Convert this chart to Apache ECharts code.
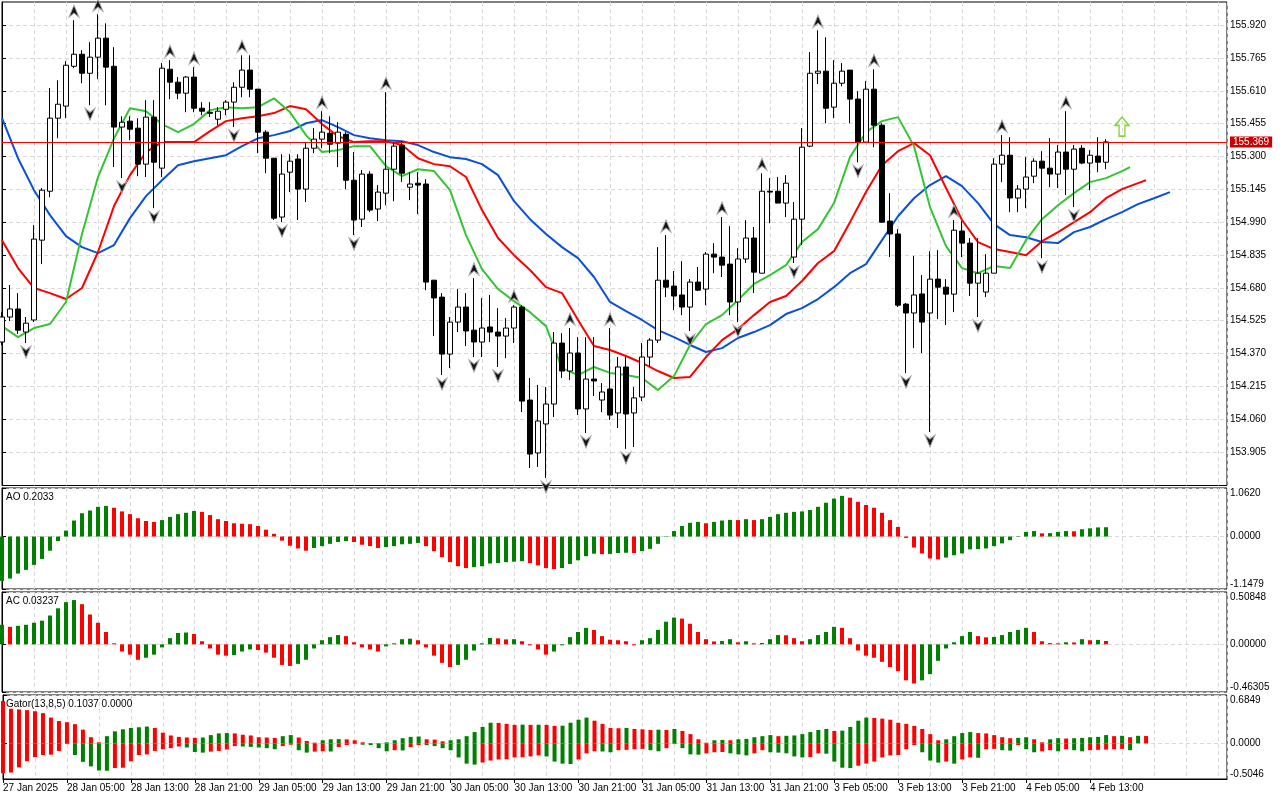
<!DOCTYPE html>
<html><head><meta charset="utf-8">
<script src="https://cdn.jsdelivr.net/npm/echarts@6/dist/echarts.min.js"></script>
<style>html,body{margin:0;padding:0;background:#fff}#c{width:1280px;height:800px}</style>
</head><body><div id="c"></div>
<script>
// ---------- DATA (H1 bars, index 0 = 27 Jan 2025 21:00) ----------
const timeLabels = ['27 Jan 2025','28 Jan 05:00','28 Jan 13:00','28 Jan 21:00','29 Jan 05:00','29 Jan 13:00','29 Jan 21:00','30 Jan 05:00','30 Jan 13:00','30 Jan 21:00','31 Jan 05:00','31 Jan 13:00','31 Jan 21:00','3 Feb 05:00','3 Feb 13:00','3 Feb 21:00','4 Feb 05:00','4 Feb 13:00'];
const priceTicks = [153.905,154.060,154.215,154.370,154.525,154.680,154.835,154.990,155.145,155.300,155.455,155.610,155.765,155.920];
const priceRange = [153.7464, 156.0296];
const aoRange = [-1.1479, 1.0620];
const acRange = [-0.46305, 0.50848];
const gatorRange = [-0.5046, 0.6849];

const opens = [154.424,154.542,154.580,154.471,154.528,154.905,155.136,155.481,155.538,155.726,
155.783,155.693,155.769,155.859,155.726,155.439,155.467,155.434,155.264,155.486,
155.245,155.712,155.651,155.599,155.675,155.528,155.509,155.476,155.523,155.557,
155.627,155.708,155.618,155.415,155.292,155.014,155.226,155.288,155.146,155.339,
155.382,155.410,155.363,155.405,155.188,155.004,155.217,155.052,155.127,155.240,
155.354,155.155,155.174,155.170,154.716,154.636,154.367,154.518,154.589,154.480,
154.424,154.495,154.471,154.452,154.490,154.589,154.150,153.900,154.037,154.131,
154.419,154.287,154.372,154.108,154.249,154.150,154.202,154.089,154.306,154.089,
154.164,154.353,154.433,154.716,154.688,154.646,154.589,154.707,154.674,154.839,
154.825,154.792,154.613,154.816,154.915,154.749,155.136,155.136,155.080,154.825,
155.004,155.349,155.693,155.703,155.533,155.646,155.708,155.571,155.368,155.618,
155.448,154.995,154.934,154.603,154.561,154.651,154.561,154.721,154.683,154.650,
154.948,154.891,154.702,154.660,154.749,155.264,155.306,155.104,155.146,155.207,
155.278,155.245,155.217,155.321,155.240,155.339,155.269,155.302,155.273];
const highs = [154.565,154.693,154.655,154.542,154.976,155.151,155.623,155.660,155.750,155.944,
155.802,155.840,155.972,155.929,155.816,155.490,155.490,155.481,155.566,155.566,
155.741,155.755,155.675,155.679,155.722,155.557,155.557,155.533,155.566,155.651,
155.778,155.778,155.618,155.424,155.292,155.311,155.311,155.311,155.363,155.434,
155.514,155.490,155.462,155.415,155.321,155.236,155.231,155.165,155.604,155.368,
155.373,155.226,155.226,155.193,154.716,154.655,154.542,154.674,154.655,154.726,
154.631,154.646,154.584,154.537,154.598,154.598,154.254,154.221,154.211,154.471,
154.466,154.490,154.447,154.447,154.447,154.230,154.490,154.353,154.353,154.211,
154.419,154.442,154.872,154.929,154.759,154.806,154.721,154.778,154.849,154.891,
155.014,154.971,154.867,155.000,154.967,155.221,155.198,155.203,155.212,155.085,
155.434,155.793,155.896,155.863,155.755,155.741,155.708,155.608,155.656,155.712,
155.457,155.127,154.957,154.608,154.830,154.740,154.853,154.858,154.721,155.000,
154.995,154.915,154.915,154.839,155.292,155.401,155.391,155.165,155.297,155.292,
155.325,155.387,155.354,155.514,155.354,155.354,155.330,155.391,155.382];
const lows = [154.410,154.523,154.462,154.419,154.518,154.792,155.108,155.386,155.481,155.717,
155.646,155.542,155.665,155.542,155.250,155.198,155.377,155.207,155.203,155.056,
155.203,155.571,155.571,155.509,155.509,155.495,155.486,155.448,155.495,155.439,
155.580,155.580,155.316,155.221,155.000,154.990,155.132,155.000,155.085,155.316,
155.339,155.316,155.250,155.146,154.929,154.967,155.037,154.995,155.070,155.089,
155.179,155.094,155.028,154.669,154.452,154.268,154.301,154.471,154.405,154.353,
154.353,154.424,154.306,154.348,154.419,154.093,153.829,153.834,153.782,154.070,
154.254,154.244,154.079,153.994,154.169,154.093,154.056,154.018,153.919,153.928,
154.145,154.306,154.419,154.636,154.575,154.551,154.476,154.665,154.598,154.749,
154.731,154.551,154.518,154.797,154.655,154.749,154.985,155.080,155.014,154.797,
154.882,155.344,155.642,155.457,155.481,155.632,155.457,155.273,155.368,155.344,
154.986,154.825,154.589,154.277,154.395,154.372,153.999,154.532,154.504,154.565,
154.825,154.641,154.542,154.636,154.749,155.179,155.037,155.037,155.056,155.174,
154.820,155.155,155.151,155.118,155.061,155.264,155.141,155.226,155.240];
const closes = [154.542,154.580,154.480,154.513,154.910,155.141,155.481,155.547,155.731,155.783,
155.693,155.769,155.859,155.722,155.439,155.462,155.429,155.264,155.486,155.273,
155.717,155.651,155.599,155.675,155.528,155.514,155.504,155.514,155.557,155.627,
155.708,155.618,155.415,155.292,155.009,155.217,155.278,155.146,155.339,155.382,
155.415,155.358,155.415,155.188,155.000,155.217,155.047,155.132,155.240,155.349,
155.221,155.170,155.165,154.707,154.632,154.367,154.518,154.589,154.476,154.424,
154.490,154.471,154.452,154.490,154.589,154.145,153.895,154.051,154.131,154.419,
154.287,154.372,154.108,154.249,154.240,154.188,154.079,154.306,154.084,154.160,
154.353,154.433,154.716,154.683,154.641,154.589,154.707,154.669,154.839,154.825,
154.787,154.613,154.816,154.915,154.754,155.136,155.132,155.080,155.174,155.004,
155.344,155.693,155.703,155.528,155.646,155.703,155.571,155.368,155.618,155.448,
154.990,154.934,154.598,154.561,154.646,154.518,154.721,154.683,154.650,154.952,
154.891,154.702,154.749,154.749,155.264,155.306,155.104,155.146,155.203,155.278,
155.245,155.217,155.321,155.240,155.335,155.269,155.306,155.273,155.369];

// Alligator lines, [bar index, price] (already shifted forward)
const jaw = [[0,155.481],[2,155.292],[4,155.141],[6,155.023],[8,154.924],[10,154.872],[12,154.844],[14,154.882],[16,155.009],[18,155.113],[20,155.188],[22,155.259],[24,155.278],[26,155.292],[28,155.306],[30,155.349],[32,155.386],[34,155.401],[36,155.420],[38,155.457],[40,155.472],[42,155.439],[44,155.401],[46,155.386],[48,155.377],[50,155.372],[52,155.354],[54,155.321],[56,155.297],[58,155.288],[60,155.264],[62,155.212],[64,155.089],[66,155.004],[68,154.934],[70,154.872],[72,154.820],[74,154.731],[76,154.613],[78,154.570],[80,154.528],[82,154.480],[84,154.447],[86,154.410],[88,154.377],[90,154.395],[92,154.443],[94,154.471],[96,154.504],[98,154.556],[100,154.584],[102,154.627],[104,154.683],[106,154.749],[108,154.792],[110,154.905],[112,155.018],[114,155.103],[116,155.165],[118,155.207],[120,155.160],[122,155.080],[124,154.981],[126,154.929],[128,154.919],[130,154.896],[132,154.891],[134,154.943],[136,154.967],[138,155.004],[140,155.037],[142,155.075],[144,155.103],[146,155.132]];
const teeth = [[0,154.905],[2,154.773],[4,154.679],[6,154.655],[8,154.627],[10,154.679],[12,154.849],[14,155.066],[16,155.212],[18,155.321],[20,155.368],[22,155.368],[24,155.368],[26,155.420],[28,155.467],[30,155.481],[32,155.490],[34,155.505],[36,155.538],[38,155.523],[40,155.453],[42,155.396],[44,155.368],[46,155.372],[48,155.372],[50,155.354],[52,155.292],[54,155.264],[56,155.254],[58,155.203],[60,155.047],[62,154.915],[64,154.834],[66,154.764],[68,154.683],[70,154.655],[72,154.528],[74,154.405],[76,154.386],[78,154.358],[80,154.325],[82,154.287],[84,154.254],[86,154.259],[88,154.353],[90,154.433],[92,154.485],[94,154.551],[96,154.613],[98,154.641],[100,154.712],[102,154.797],[104,154.853],[106,154.990],[108,155.132],[110,155.259],[112,155.325],[114,155.363],[116,155.306],[118,155.151],[120,155.000],[122,154.896],[124,154.863],[126,154.849],[128,154.834],[130,154.900],[132,154.943],[134,154.990],[136,155.037],[138,155.103],[140,155.146],[142,155.174],[143,155.188]];
const lips = [[0,154.499],[2,154.447],[4,154.490],[6,154.509],[8,154.613],[10,154.934],[12,155.203],[14,155.386],[16,155.528],[18,155.514],[20,155.453],[22,155.415],[24,155.453],[26,155.519],[28,155.533],[30,155.528],[32,155.533],[34,155.575],[36,155.509],[38,155.401],[40,155.321],[42,155.330],[44,155.349],[46,155.349],[48,155.254],[50,155.207],[52,155.240],[54,155.231],[56,155.141],[58,154.929],[60,154.768],[62,154.674],[64,154.617],[66,154.565],[68,154.499],[70,154.301],[72,154.268],[74,154.306],[76,154.278],[78,154.268],[80,154.254],[82,154.197],[84,154.263],[86,154.410],[88,154.509],[90,154.551],[92,154.622],[94,154.698],[96,154.740],[98,154.787],[100,154.896],[102,154.957],[104,155.080],[106,155.297],[108,155.415],[110,155.467],[112,155.486],[114,155.349],[116,155.061],[118,154.877],[120,154.773],[122,154.749],[124,154.783],[126,154.773],[128,154.905],[130,155.004],[132,155.070],[134,155.127],[136,155.179],[138,155.198],[140,155.231],[141,155.250]];

// Fractal bar indices
const fractalUpIdx = [9,12,21,24,30,40,48,59,64,71,76,83,90,95,102,109,119,125,133];
const fractalDownIdx = [3,11,15,19,29,35,44,55,59,62,68,73,78,86,92,99,107,113,116,122,130,134];
// signal arrow [bar index, price]
const signalArrows = [[140,155.441]];

const ao = [-0.97,-0.92,-0.81,-0.73,-0.62,-0.49,-0.31,-0.10,0.13,0.35,
0.51,0.57,0.65,0.67,0.63,0.55,0.49,0.40,0.34,0.32,
0.36,0.43,0.49,0.52,0.56,0.54,0.47,0.38,0.34,0.29,
0.28,0.27,0.23,0.15,0.06,-0.09,-0.20,-0.26,-0.31,-0.25,
-0.21,-0.16,-0.12,-0.10,-0.12,-0.18,-0.21,-0.25,-0.23,-0.21,
-0.17,-0.16,-0.14,-0.21,-0.32,-0.45,-0.56,-0.65,-0.69,-0.67,
-0.65,-0.59,-0.58,-0.56,-0.55,-0.54,-0.58,-0.63,-0.69,-0.71,
-0.69,-0.60,-0.52,-0.43,-0.375,-0.385,-0.38,-0.36,-0.355,-0.36,
-0.32,-0.27,-0.16,0.01,0.12,0.23,0.30,0.32,0.29,0.32,
0.35,0.365,0.36,0.38,0.36,0.38,0.43,0.49,0.52,0.54,
0.55,0.58,0.65,0.74,0.83,0.89,0.85,0.76,0.69,0.63,
0.52,0.36,0.21,-0.03,-0.24,-0.37,-0.48,-0.50,-0.46,-0.41,
-0.37,-0.28,-0.275,-0.26,-0.21,-0.15,-0.08,0.01,0.10,0.12,
0.07,0.075,0.10,0.12,0.115,0.16,0.18,0.20,0.2033];
const ac = [0.19,0.17,0.18,0.19,0.21,0.23,0.28,0.35,0.41,0.43,
0.39,0.29,0.21,0.12,0.01,-0.07,-0.10,-0.15,-0.13,-0.10,
-0.03,0.06,0.11,0.115,0.10,0.03,-0.04,-0.10,-0.11,-0.105,
-0.07,-0.05,-0.055,-0.08,-0.13,-0.20,-0.21,-0.19,-0.15,-0.04,
0.04,0.07,0.09,0.08,0.02,-0.03,-0.05,-0.07,-0.02,0.01,
0.05,0.055,0.04,-0.03,-0.11,-0.18,-0.22,-0.20,-0.15,-0.06,
0.01,0.062,0.058,0.048,0.05,0.03,-0.01,-0.05,-0.10,-0.07,
-0.01,0.07,0.12,0.16,0.14,0.08,0.045,0.04,0.03,-0.01,
0.04,0.06,0.14,0.22,0.26,0.25,0.20,0.12,0.05,0.028,
0.032,0.05,0.02,0.03,0.01,0.013,0.05,0.09,0.088,0.06,
0.03,0.05,0.09,0.12,0.17,0.16,0.06,-0.06,-0.11,-0.13,
-0.17,-0.22,-0.26,-0.35,-0.38,-0.35,-0.29,-0.16,-0.04,0.02,
0.08,0.12,0.08,0.068,0.072,0.09,0.12,0.14,0.16,0.12,
0.03,0.012,0.01,0.02,0.018,0.05,0.040,0.043,0.03237];
const gatorUp = [0.598,0.49,0.48,0.47,0.455,0.428,0.365,0.316,0.300,0.272,
0.194,0.087,0.015,0.102,0.170,0.199,0.219,0.228,0.238,0.219,
0.151,0.112,0.092,0.083,0.078,0.083,0.117,0.141,0.146,0.141,
0.122,0.112,0.087,0.083,0.078,0.102,0.117,0.083,0.034,0.010,
0.044,0.058,0.060,0.057,0.044,0.015,0.005,0.003,0.015,0.044,
0.073,0.092,0.097,0.058,0.053,0.029,0.044,0.058,0.102,0.160,
0.233,0.292,0.290,0.277,0.262,0.265,0.262,0.264,0.262,0.248,
0.250,0.292,0.335,0.365,0.321,0.277,0.219,0.214,0.219,0.204,
0.199,0.190,0.194,0.190,0.204,0.175,0.131,0.058,0.010,0.044,
0.049,0.044,0.058,0.063,0.087,0.102,0.117,0.102,0.107,0.112,
0.131,0.160,0.190,0.204,0.175,0.180,0.233,0.321,0.365,0.360,
0.350,0.335,0.292,0.277,0.248,0.204,0.131,0.044,0.058,0.102,
0.146,0.160,0.146,0.141,0.117,0.087,0.073,0.078,0.087,0.058,
0.015,0.058,0.073,0.068,0.073,0.078,0.087,0.092,0.117,0.102,
0.107,0.087,0.107,0.1037];
const gatorDown = [-0.423,-0.413,-0.340,-0.253,-0.194,-0.165,-0.160,-0.107,-0.010,-0.165,
-0.262,-0.326,-0.384,-0.388,-0.350,-0.345,-0.253,-0.165,-0.156,-0.107,
-0.083,-0.068,-0.044,-0.058,-0.122,-0.131,-0.117,-0.107,-0.087,-0.039,
-0.044,-0.050,-0.058,-0.068,-0.083,-0.039,-0.019,-0.097,-0.131,-0.117,
-0.112,-0.115,-0.053,-0.024,-0.010,-0.019,-0.024,-0.068,-0.112,-0.097,
-0.100,-0.053,-0.024,-0.026,-0.039,-0.068,-0.097,-0.199,-0.287,-0.301,
-0.272,-0.243,-0.228,-0.226,-0.199,-0.197,-0.185,-0.170,-0.185,-0.258,
-0.287,-0.292,-0.228,-0.141,-0.112,-0.115,-0.126,-0.097,-0.092,-0.083,
-0.078,-0.097,-0.112,-0.068,-0.010,-0.068,-0.156,-0.160,-0.141,-0.126,
-0.122,-0.141,-0.156,-0.170,-0.141,-0.097,-0.126,-0.131,-0.141,-0.185,
-0.199,-0.194,-0.141,-0.146,-0.258,-0.345,-0.350,-0.316,-0.287,-0.258,
-0.199,-0.170,-0.165,-0.083,-0.024,-0.126,-0.243,-0.272,-0.258,-0.287,
-0.228,-0.199,-0.204,-0.083,-0.078,-0.097,-0.102,-0.024,-0.083,-0.126,
-0.112,-0.097,-0.112,-0.083,-0.097,-0.112,-0.097,-0.092,-0.088,-0.083,
-0.078,-0.097];

// ---------- STYLE ----------
const FONT = "'Liberation Sans', Arial, sans-serif";
const GREEN = '#008000', RED = '#ff0000';
const GRID_LINE = {show:true, lineStyle:{color:'#d9d9d9', type:[4,3], width:1}};
const X_MAX = 153.125;

const dirColor = (arr, i, useAbs, firstColor) => {
  if (i === 0) return firstColor;
  const a = useAbs ? Math.abs(arr[i]) : arr[i];
  const b = useAbs ? Math.abs(arr[i-1]) : arr[i-1];
  return a > b ? GREEN : RED;
};
const barData = (arr, useAbs, firstColor) => arr.map((v, i) => ({value:[i, v], itemStyle:{color: dirColor(arr, i, useAbs, firstColor)}}));

const candleData = opens.map((o, i) => [i, o, closes[i], lows[i], highs[i]]);
const lastClose = closes[closes.length - 1];

const grids = [
  {left:2, right:53, top:2, height:483.5},
  {left:2, right:53, top:488, height:101},
  {left:2, right:53, top:592, height:100},
  {left:2, right:53, top:695, height:84}
].map(g => Object.assign(g, {show:true, borderColor:'#000', borderWidth:1, backgroundColor:'#fff', containLabel:false}));

const xAxes = [0,1,2,3].map(i => ({
  type:'value', gridIndex:i, min:0, max:X_MAX, interval:4,
  axisLine:{show:false}, axisTick:{show:false}, axisLabel:{show:false}, splitLine:GRID_LINE
}));
const labelTicks = timeLabels.map((_, i) => i * 8);
xAxes.push({
  type:'value', gridIndex:3, min:0, max:X_MAX, position:'bottom',
  axisLine:{show:true, lineStyle:{color:'#000'}},
  axisTick:{show:true, length:4, customValues:labelTicks, lineStyle:{color:'#000'}},
  axisLabel:{show:true, customValues:labelTicks, formatter:v => timeLabels[Math.round(v/8)] || '',
    align:'left', color:'#000', fontSize:10, fontFamily:FONT, margin:4},
  splitLine:{show:false}
});

const indAxis = (i, range, dec) => {
  const vals = [range[0], 0, range[1]];
  return {
    type:'value', gridIndex:i, position:'right', min:range[0], max:range[1],
    axisLine:{show:true, lineStyle:{color:'#000'}},
    axisTick:{show:true, length:4, customValues:vals, lineStyle:{color:'#000'}},
    axisLabel:{customValues:vals, formatter:v => v.toFixed(dec), color:'#000', fontSize:10, fontFamily:FONT, margin:3,
      verticalAlignMaxLabel:'top', verticalAlignMinLabel:'bottom'},
    splitLine:GRID_LINE
  };
};
const yAxes = [
  {type:'value', gridIndex:0, position:'right', min:priceRange[0], max:priceRange[1],
   axisLine:{show:true, lineStyle:{color:'#000'}},
   axisTick:{show:true, length:4, customValues:priceTicks, lineStyle:{color:'#000'}},
   axisLabel:{customValues:priceTicks, formatter:v => v.toFixed(3), color:'#000', fontSize:10, fontFamily:FONT, margin:3},
   splitLine:GRID_LINE},
  indAxis(1, aoRange, 4),
  indAxis(2, acRange, 5),
  indAxis(3, gatorRange, 4)
];

const lineSeries = (data, color) => ({
  type:'line', xAxisIndex:0, yAxisIndex:0, data, showSymbol:false, symbol:'none', color,
  lineStyle:{color, width:2}, itemStyle:{color}, z:3, silent:true
});

const option = {
  animation:false,
  backgroundColor:'#fff',
  grid:grids, xAxis:xAxes, yAxis:yAxes,
  graphic:[
    {type:'text', left:6, top:492, z:100, style:{text:'AO ' + ao[ao.length-1].toFixed(4), font:'10px ' + FONT, fill:'#000'}},
    {type:'text', left:6, top:596, z:100, style:{text:'AC ' + ac[ac.length-1].toFixed(5), font:'10px ' + FONT, fill:'#000'}},
    {type:'text', left:6, top:699, z:100, style:{text:'Gator(13,8,5) ' + gatorUp[gatorUp.length-1].toFixed(4) + ' 0.0000', font:'10px ' + FONT, fill:'#000'}}
  ],
  series:[
    {type:'candlestick', xAxisIndex:0, yAxisIndex:0, data:candleData, barWidth:5, clip:true, z:4,
     encode:{x:0, y:[1,2,3,4]},
     itemStyle:{color:'#ffffff', color0:'#000000', borderColor:'#000000', borderColor0:'#000000', borderWidth:1}},
    // current price line
    {type:'line', xAxisIndex:0, yAxisIndex:0, data:[], silent:true, z:2, color:'#ff0000',
     lineStyle:{color:'#ff0000'}, itemStyle:{color:'#ff0000'},
     markLine:{silent:true, symbol:['none','none'], animation:false, precision:3,
       lineStyle:{color:'#ff0000', width:1, type:'solid', opacity:1},
       label:{show:true, position:'end', distance:3, formatter:() => lastClose.toFixed(3), color:'#fff',
         backgroundColor:'#c80000', padding:[1,3,0,3], fontSize:10, fontFamily:FONT},
       data:[{yAxis:lastClose, lineStyle:{color:'#ff0000', width:1, type:'solid'}, itemStyle:{color:'#ff0000'}}]}},
    lineSeries(jaw, '#0a50d8'),
    lineSeries(teeth, '#ff0000'),
    lineSeries(lips, '#35c435'),
    {type:'scatter', xAxisIndex:0, yAxisIndex:0, data:fractalUpIdx.map(k => [k, highs[k]]),
     symbol:'path://M5,0 L10,12 L5,8 L0,12 Z', symbolSize:[10,12], symbolOffset:[0,-9], z:5, silent:true,
     itemStyle:{color:'#151515', borderColor:'#a8a8a8', borderWidth:1, opacity:1}},
    {type:'scatter', xAxisIndex:0, yAxisIndex:0, data:fractalDownIdx.map(k => [k, lows[k]]),
     symbol:'path://M0,0 L5,4 L10,0 L5,12 Z', symbolSize:[10,12], symbolOffset:[0,9], z:5, silent:true,
     itemStyle:{color:'#151515', borderColor:'#a8a8a8', borderWidth:1, opacity:1}},
    {type:'scatter', xAxisIndex:0, yAxisIndex:0, data:signalArrows,
     symbol:'path://M6,0 L12,7 L8.5,7 L8.5,16 L3.5,16 L3.5,7 L0,7 Z', symbolSize:[14,19], z:5, silent:true,
     itemStyle:{color:'rgba(255,255,255,0)', borderColor:'#86d23c', borderWidth:1.5, opacity:1}},
    {type:'bar', xAxisIndex:1, yAxisIndex:1, data:barData(ao, false, GREEN), barWidth:4, silent:true},
    {type:'bar', xAxisIndex:2, yAxisIndex:2, data:barData(ac, false, GREEN), barWidth:4, silent:true},
    {type:'bar', xAxisIndex:3, yAxisIndex:3, data:barData(gatorUp, true, RED), barWidth:4, barGap:'-100%', silent:true},
    {type:'bar', xAxisIndex:3, yAxisIndex:3, data:barData(gatorDown, true, RED), barWidth:4, barGap:'-100%', silent:true}
  ]
};
echarts.init(document.getElementById('c'), null, {renderer:'canvas'}).setOption(option);
</script>
</body></html>
